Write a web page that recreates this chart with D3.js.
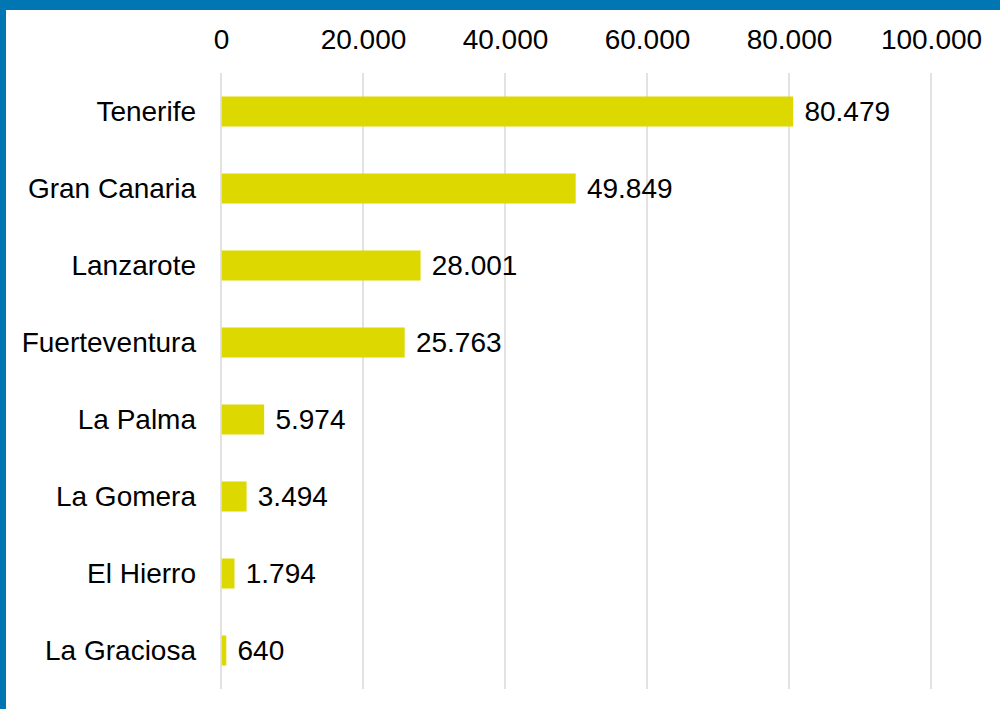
<!DOCTYPE html>
<html>
<head>
<meta charset="utf-8">
<script src="https://cdn.jsdelivr.net/npm/d3@7"></script>
<style>
  html, body { margin: 0; padding: 0; background: #fff; }
  svg { display: block; }
  text { font-family: "Liberation Sans", Arial, sans-serif; fill: #000; }
</style>
</head>
<body>
<svg id="chart" width="1000" height="709"></svg>
<script>
const islands = ["Tenerife", "Gran Canaria", "Lanzarote", "Fuerteventura", "La Palma", "La Gomera", "El Hierro", "La Graciosa"];
const values = [80479, 49849, 28001, 25763, 5974, 3494, 1794, 640];
const tickValues = [0, 20000, 40000, 60000, 80000, 100000];

const W = 1000, H = 709;
const svg = d3.select("#chart");
const fontSize = 28;
const fmt = v => d3.format(",")(v).replace(/,/g, ".");

// frame
svg.append("rect").attr("x", 0).attr("y", 0).attr("width", W).attr("height", H).attr("fill", "#fff");
svg.append("rect").attr("x", 0).attr("y", 0).attr("width", W).attr("height", 10).attr("fill", "#0076B3");
svg.append("rect").attr("x", 0).attr("y", 0).attr("width", 6).attr("height", H).attr("fill", "#0076B3");

const x = d3.scaleLinear().domain([0, 100000]).range([221, 931]);
const y = d3.scaleBand().domain(islands).range([73, 689]).paddingInner(0.61).paddingOuter(0.305);

// gridlines
svg.append("g").selectAll("line").data(tickValues).join("line")
  .attr("x1", d => x(d)).attr("x2", d => x(d))
  .attr("y1", 73).attr("y2", 689)
  .attr("stroke", "#D9D9D9").attr("stroke-width", 1.5);

// top axis labels
const axis = svg.append("g").attr("transform", "translate(0,49)")
  .call(d3.axisTop(x).tickValues(tickValues).tickFormat(fmt).tickSize(0).tickPadding(0));
axis.select(".domain").remove();
axis.selectAll("text").attr("font-size", fontSize).attr("font-family", "Liberation Sans, Arial, sans-serif").attr("fill", "#000").attr("dy", 0);

// category labels
const yAxis = svg.append("g").attr("transform", "translate(196,0)")
  .call(d3.axisLeft(y).tickSize(0).tickPadding(0));
yAxis.select(".domain").remove();
yAxis.selectAll("text").attr("font-size", fontSize).attr("font-family", "Liberation Sans, Arial, sans-serif").attr("fill", "#000").attr("dy", "0.35em");

// bars
const data = islands.map((c, i) => ({ c, v: values[i] }));
svg.append("g").selectAll("rect").data(data).join("rect")
  .attr("x", x(0) + 0.75)
  .attr("y", d => y(d.c))
  .attr("width", d => x(d.v) - x(0))
  .attr("height", y.bandwidth())
  .attr("fill", "#DCD800");

// value labels
svg.append("g").selectAll("text").data(data).join("text")
  .attr("x", d => x(d.v) + 12)
  .attr("y", d => y(d.c) + y.bandwidth() / 2)
  .attr("dy", "0.35em")
  .attr("font-size", fontSize)
  .text(d => fmt(d.v));
</script>
</body>
</html>
